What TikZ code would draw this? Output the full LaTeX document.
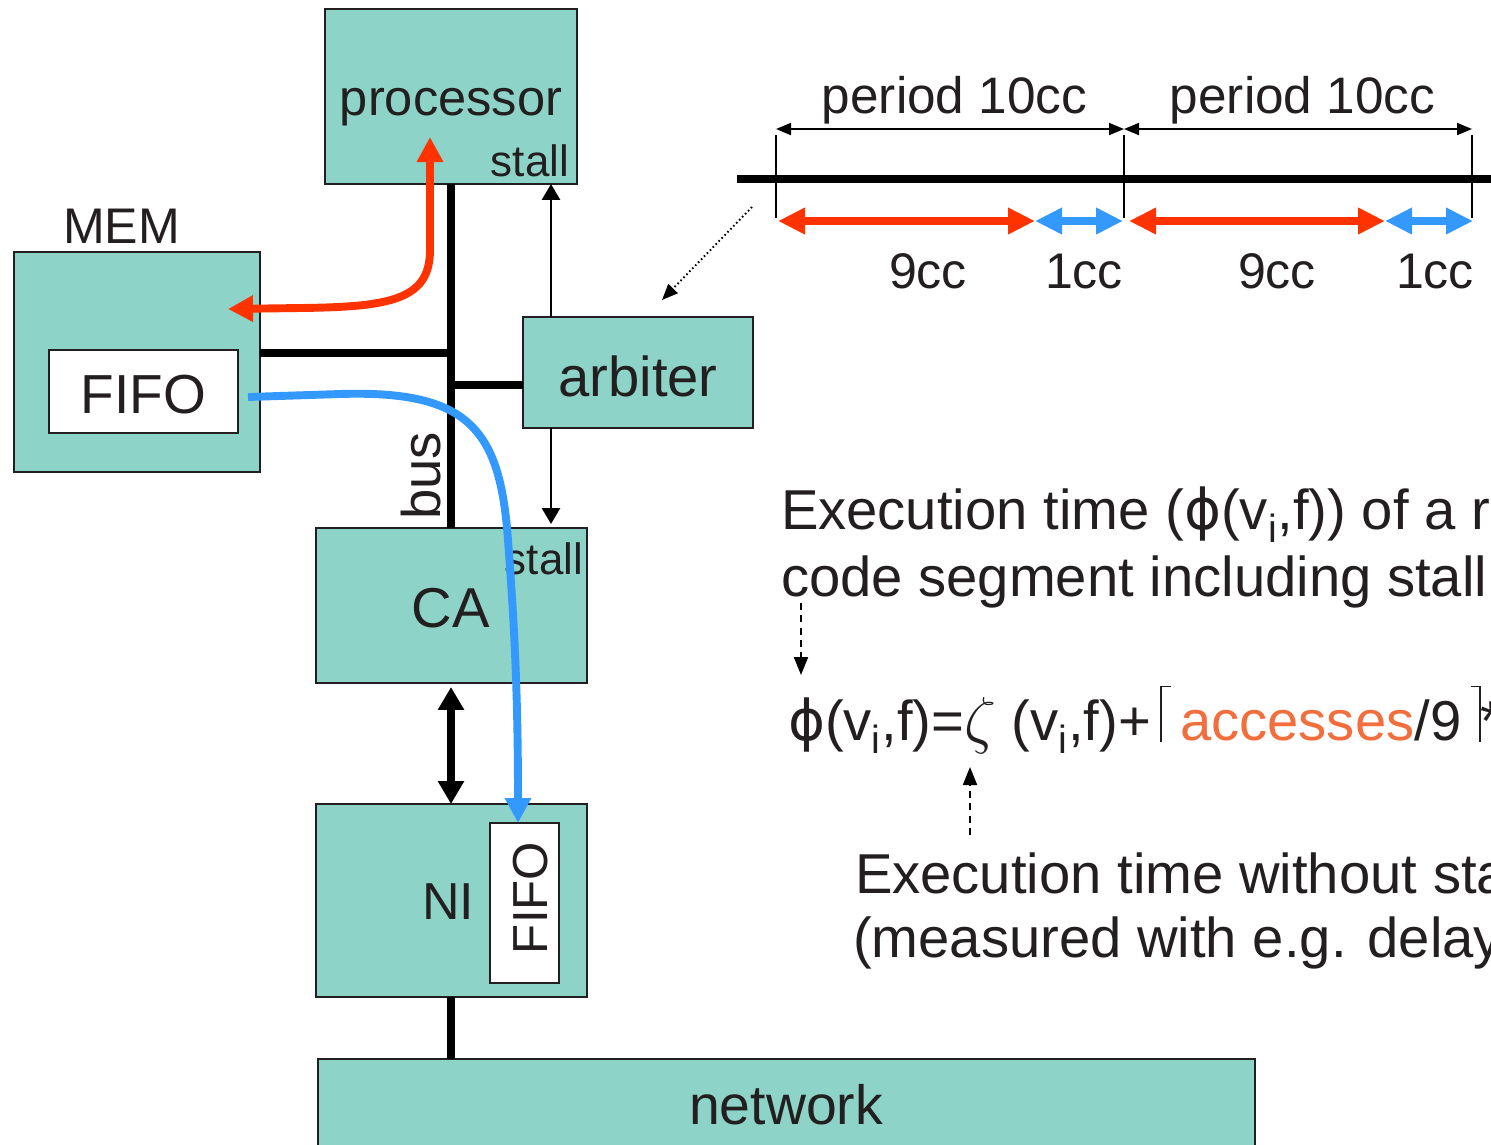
\documentclass[tikz,border=0pt]{standalone}
\usepackage{fontspec}
\usepackage{graphicx}
\setmainfont{Liberation Sans}
\newfontfamily\dejavu{DejaVu Sans}
\usetikzlibrary{arrows.meta}

\definecolor{tealfill}{RGB}{141,211,199}
\definecolor{hotred}{RGB}{255,51,0}
\definecolor{skyblue}{RGB}{51,153,255}
\definecolor{accorange}{RGB}{242,110,60}
\definecolor{ink}{RGB}{35,31,32}

\newcommand{\fsz}[1]{\fontsize{#1}{#1}\selectfont}
\newcommand{\symphi}{{\dejavu ϕ}}
\newcommand{\bigzeta}{\raisebox{-1pt}{\scalebox{1.45}{$\zeta$}}}
% thin ceiling brackets built from rules
\newcommand{\ceilopen}{\rule[-1pt]{0.8pt}{32pt}\rule[30.2pt]{5pt}{0.8pt}}
\newcommand{\ceilclose}{\rule[30.2pt]{5pt}{0.8pt}\rule[-1pt]{0.8pt}{32pt}}

\begin{document}
\begin{tikzpicture}[x=0.02cm, y=-0.02cm,
  box/.style={draw=ink, line width=1.1pt, fill=tealfill, inner sep=0pt, outer sep=0pt},
  whitebox/.style={draw=ink, line width=1.1pt, fill=white, inner sep=0pt, outer sep=0pt},
  lbl/.style={inner sep=0pt, outer sep=0pt, text=ink},
  busline/.style={line width=4.5pt, black},
  stallarrow/.style={line width=1.6pt, black, -{Triangle[length=0.32cm, width=0.36cm]}},
  linkarrow/.style={line width=4pt, black, {Triangle[length=0.46cm, width=0.5cm]}-{Triangle[length=0.46cm, width=0.5cm]}},
  flowarrow/.style={line width=4.5pt, {Triangle[length=0.5cm, width=0.5cm]}-{Triangle[length=0.5cm, width=0.5cm]}},
  slotarrow/.style={line width=4.5pt, {Triangle[length=0.54cm, width=0.5cm]}-{Triangle[length=0.54cm, width=0.5cm]}},
  periodarrow/.style={line width=1.1pt, black, {Triangle[length=0.3cm, width=0.24cm]}-{Triangle[length=0.3cm, width=0.24cm]}},
  notearrow/.style={line width=1.1pt, black, dash pattern=on 4pt off 3pt, -{Triangle[length=0.36cm, width=0.28cm]}},
  hintarrow/.style={line width=1.1pt, black, dash pattern=on 0.9pt off 1.5pt, -{Triangle[length=0.32cm, width=0.26cm]}},
  bodytext/.style={lbl, font=\fsz{32pt}, anchor=base west},
]
\useasboundingbox (0,0) rectangle (1491,1144);
\clip (0,0) rectangle (1491,1144);

% ---------- blocks ----------
\node[box, anchor=north west, minimum width=5.04cm, minimum height=3.5cm] (proc) at (325,9) {};
\node[box, anchor=north west, minimum width=4.92cm, minimum height=4.4cm] (mem) at (14,252) {};
\node[whitebox, anchor=north west, minimum width=3.78cm, minimum height=1.66cm] (memfifo) at (49,350) {};
\node[box, anchor=north west, minimum width=4.6cm, minimum height=2.22cm] (arb) at (523,317) {};
\node[box, anchor=north west, minimum width=5.42cm, minimum height=3.1cm] (ca) at (316,528) {};
\node[box, anchor=north west, minimum width=5.42cm, minimum height=3.86cm] (ni) at (316,804) {};
\node[whitebox, anchor=north west, minimum width=1.38cm, minimum height=3.2cm] (nififo) at (490,823) {};
\node[box, anchor=north west, minimum width=18.74cm, minimum height=2.5cm] (net) at (318,1059) {};

% ---------- block labels ----------
\node[lbl, font=\fsz{28.8pt}, anchor=base] (proctext) at (451,115) {processor};
\node[lbl, font=\fsz{25pt}, anchor=base east] (procstall) at (569,176) {stall};
\node[lbl, font=\fsz{28.5pt}, anchor=base] (memtext) at (121.5,243) {MEM};
\node[lbl, font=\fsz{31.3pt}, anchor=base] (memfifotext) at (143.5,413) {FIFO};
\node[lbl, font=\fsz{32pt}, anchor=base] (arbtext) at (638,396) {arbiter};
\node[lbl, font=\fsz{32pt}, anchor=base] (catext) at (451,627) {CA};
\node[lbl, font=\fsz{25pt}, anchor=base east] (castall) at (583,574) {stall};
\node[lbl, font=\fsz{29.6pt}, anchor=base] (nitext) at (448,919) {NI};
\node[lbl, font=\fsz{28pt}, anchor=base, rotate=90] (nififotext) at (547,898) {FIFO};
\node[lbl, font=\fsz{31.5pt}, anchor=base] (nettext) at (786,1124) {network};
\node[lbl, font=\fsz{31pt}, anchor=base, rotate=90] (bustext) at (440,476) {bus};

% ---------- bus and links ----------
\coordinate (busx) at (451,0);
\coordinate (stx) at (551,0);
\coordinate (tapmem) at (451,353);
\coordinate (taparb) at (451,385);
\draw[busline] (proc.south -| busx) -- (ca.north -| busx);
\draw[busline] (mem.east |- tapmem) -- (tapmem);
\draw[busline] (taparb) -- (arb.west |- taparb);
\draw[stallarrow] (arb.north -| stx) -- (proc.south -| stx);
\draw[stallarrow] (arb.south -| stx) -- ([yshift=0.08cm]ca.north -| stx);
\draw[linkarrow] ([yshift=-0.08cm]ca.south -| busx) -- (ni.north -| busx);
\draw[busline] (ni.south -| busx) -- (net.north -| busx);

% ---------- data flows ----------
\coordinate (redproc) at (430,137);
\coordinate (redmem) at (228,309);
\draw[flowarrow, hotred] (redproc) -- (430,250) .. controls (430,300) and (390,307) .. (300,308) -- (redmem);

\coordinate (bluemem) at (248,397);
\coordinate (bluefifo) at (518,823);
\draw[line width=4.5pt, skyblue, -{Triangle[length=0.5cm, width=0.5cm]}]
  (bluemem) -- (340,394) .. controls (470,390) and (500,430) .. (508,540)
  .. controls (514,620) and (518,690) .. (bluefifo);

% ---------- time line ----------
\coordinate (t0) at (776,179);
\coordinate (t1) at (1124,179);
\coordinate (t2) at (1472,179);
\draw[line width=4.5pt, black] (737,179) -- (1500,179);
\foreach \t in {t0,t1,t2}
  \draw[line width=1.1pt, black] ([yshift=0.88cm]\t) -- ([yshift=-0.78cm]\t);
\draw[periodarrow] ([yshift=1cm]t0) -- ([yshift=1cm]t1);
\draw[periodarrow] ([yshift=1cm]t1) -- ([yshift=1cm]t2);
\node[lbl, font=\fsz{29.2pt}, anchor=base] (per1) at (954.5,113) {period 10cc};
\node[lbl, font=\fsz{29.2pt}, anchor=base] (per2) at (1302.5,113) {period 10cc};

\coordinate (s0) at (778,221);
\coordinate (s1) at (1035,221);
\coordinate (s2) at (1123,221);
\coordinate (s3) at (1129,221);
\coordinate (s4) at (1385,221);
\coordinate (s5) at (1473,221);
\draw[slotarrow, hotred] (s0) -- (s1);
\draw[slotarrow, skyblue] (s1) -- (s2);
\draw[slotarrow, hotred] (s3) -- (s4);
\draw[slotarrow, skyblue] (s4) -- (s5);
\node[lbl, font=\fsz{28.5pt}, anchor=base] (nine1) at (928,288) {9cc};
\node[lbl, font=\fsz{28.5pt}, anchor=base] (one1) at (1084,288) {1cc};
\node[lbl, font=\fsz{28.5pt}, anchor=base] (nine2) at (1277,288) {9cc};
\node[lbl, font=\fsz{28.5pt}, anchor=base] (one2) at (1435,288) {1cc};

\coordinate (hintstart) at (752,207);
\coordinate (hintend) at (662,300);
\draw[hintarrow] (hintstart) -- (hintend);

% ---------- explanation ----------
\node[bodytext] (def1) at (781,529) {Execution time (\symphi(v\textsubscript{i},f)) of a r};
\node[bodytext] (def2) at (781,596) {code segment including stall};
\node[bodytext] (formula) at (788,740) {\symphi(v\textsubscript{i},f)=\bigzeta\ (v\textsubscript{i},f)+\,\ceilopen\,\textcolor{accorange}{accesses}/9\,\ceilclose*};
\node[bodytext] (zeta1) at (855,893) {Execution time without sta};
\node[bodytext] (zeta2) at (853,957) {(measured with e.g. delay};

\coordinate (d1a) at (801,603);
\coordinate (d1b) at (801,675);
\draw[notearrow] (d1a) -- (d1b);
\coordinate (d2a) at (970,835);
\coordinate (d2b) at (970,767);
\draw[notearrow] (d2a) -- (d2b);
\end{tikzpicture}
\end{document}
